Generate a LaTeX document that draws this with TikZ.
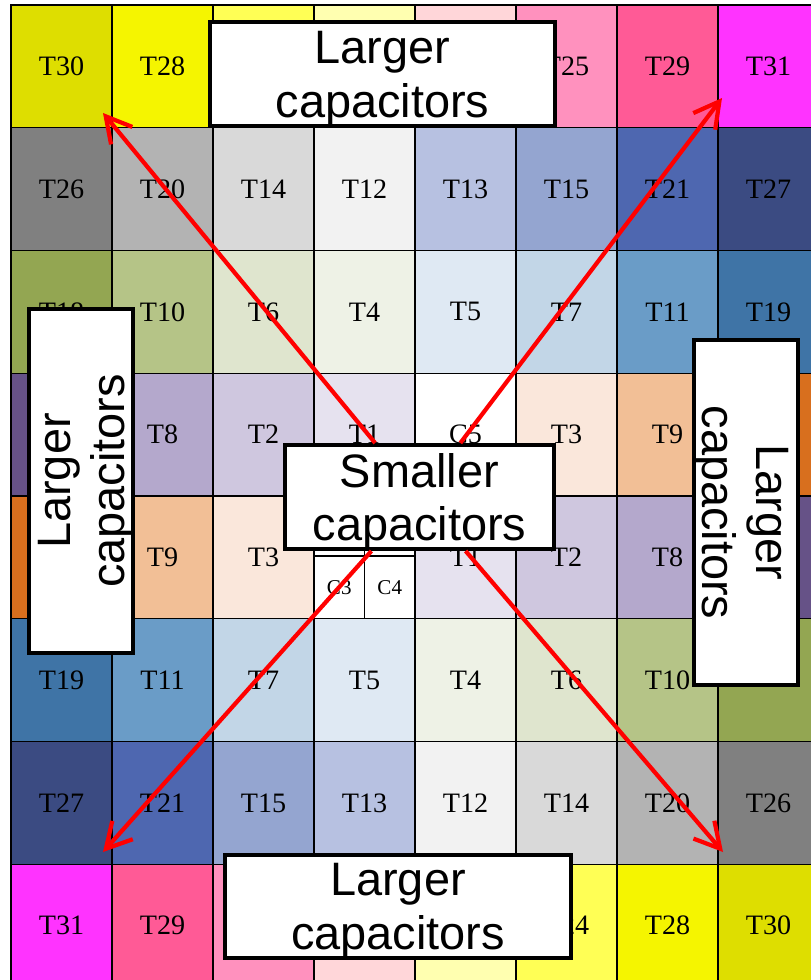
\documentclass[tikz,border=0pt]{standalone}
\usepackage{fontspec}
\setmainfont{Liberation Serif}
\newfontfamily\capfont{Liberation Sans}
\usepackage{tikz}
\usetikzlibrary{arrows.meta}
\usetikzlibrary{positioning}

\definecolor{T30}{HTML}{DEDE00}
\definecolor{T28}{HTML}{F5F500}
\definecolor{T24}{HTML}{FFFF55}
\definecolor{paleyel}{HTML}{FFFFB0}
\definecolor{palepink}{HTML}{FFD6D9}
\definecolor{T25}{HTML}{FF91BE}
\definecolor{T29}{HTML}{FF5A96}
\definecolor{T31}{HTML}{FF33FF}
\definecolor{T26}{HTML}{808080}
\definecolor{T20}{HTML}{B3B3B3}
\definecolor{T14}{HTML}{D9D9D9}
\definecolor{T12}{HTML}{F2F2F2}
\definecolor{T13}{HTML}{B7C1E1}
\definecolor{T15}{HTML}{94A5D0}
\definecolor{T21}{HTML}{4E67B0}
\definecolor{T27}{HTML}{3B4B82}
\definecolor{T18}{HTML}{93A652}
\definecolor{T10}{HTML}{B5C487}
\definecolor{T6}{HTML}{DFE5CE}
\definecolor{T4}{HTML}{EEF2E6}
\definecolor{T5}{HTML}{DFE9F3}
\definecolor{T7}{HTML}{C2D6E7}
\definecolor{T11}{HTML}{6A9CC7}
\definecolor{T19}{HTML}{3F74A6}
\definecolor{deeppurple}{HTML}{665287}
\definecolor{T8}{HTML}{B4A8CC}
\definecolor{T2}{HTML}{CFC7DF}
\definecolor{T1}{HTML}{E6E2EF}
\definecolor{T3}{HTML}{FAE7DB}
\definecolor{T9}{HTML}{F2BF96}
\definecolor{deeporange}{HTML}{D86F1E}

\begin{document}
\begin{tikzpicture}[x=0.02cm,y=-0.02cm,
        tile/.style={fill=#1, draw=black, line width=0.7pt},
        tilelabel/.style={inner sep=0, font=\fontsize{16}{19}\selectfont},
        smalllabel/.style={inner sep=0, font=\fontsize{12}{14}\selectfont},
        capbox/.style={draw=black, fill=white, line width=2.3pt, inner sep=0, align=center,
            text depth=0pt, font=\capfont\fontsize{26.7}{30.7}\selectfont},
        spread/.style={draw=red, line width=2.4pt, -{Straight Barb[length=0.5cm,width=0.55cm]}}]
                \clip (0,0) rectangle (811,980);
                \foreach \row [count=\r from 0] in {
                    {T30/T30, T28/T28, T24/{}, paleyel/{}, palepink/{}, T25/T25, T29/T29, T31/T31},
                    {T26/T26, T20/T20, T14/T14, T12/T12, T13/T13, T15/T15, T21/T21, T27/T27},
                    {T18/T18, T10/T10, T6/T6, T4/T4, T5/T5, T7/T7, T11/T11, T19/T19},
                    {deeppurple/{}, T8/T8, T2/T2, T1/T1, white/C5, T3/T3, T9/T9, deeporange/{}},
                    {deeporange/{}, T9/T9, T3/T3, white/{}, T1/T1, T2/T2, T8/T8, deeppurple/{}},
                    {T19/T19, T11/T11, T7/T7, T5/T5, T4/T4, T6/T6, T10/T10, T18/{}},
                    {T27/T27, T21/T21, T15/T15, T13/T13, T12/T12, T14/T14, T20/T20, T26/T26},
                    {T31/T31, T29/T29, T25/{}, palepink/{}, paleyel/{}, T24/T24, T28/T28, T30/T30}}{
                    \foreach \c/\t [count=\k from 0] in \row{
                        \draw[tile=\c] ({11+101*\k},{5+122.75*\r}) rectangle ++(101,122.75);
                        \node[tilelabel] (t\r\k) at ({61.5+101*\k},{66.4+122.75*\r}) {\t};
                    }
                }
                \draw[line width=0.7pt] (314,556) -- (415,556);
                \draw[line width=0.7pt] (364.5,496) -- (364.5,618.75);
                \node[smalllabel] (c3) at (339.25,587.5) {C3};
                \node[smalllabel] (c4) at (389.75,587.5) {C4};

                \node[capbox, minimum width=6.9cm, minimum height=2.08cm] (bigN) at (382.5,74) {Larger\\capacitors};
                \node[capbox, rotate=90, minimum width=6.88cm, minimum height=2.08cm] (bigW) at (81,481) {Larger\\capacitors};
                \node[capbox, rotate=-90, minimum width=6.9cm, minimum height=2.08cm] (bigE) at (746,512.5) {Larger\\capacitors};
                \node[capbox, minimum width=6.92cm, minimum height=2.06cm] (bigS) at (398,906.5) {Larger\\capacitors};
                \node[capbox, minimum width=5.38cm, minimum height=2.08cm] (small) at (419.5,497) {Smaller\\capacitors};

                \coordinate (nw) at (103,113);
                \coordinate (ne) at (722,98);
                \coordinate (sw) at (103,852);
                \coordinate (se) at (723,852);
                \foreach \tip in {nw,ne,sw,se}
                    \draw[spread] (small) -- (\tip);
            \end{tikzpicture}
\end{document}
